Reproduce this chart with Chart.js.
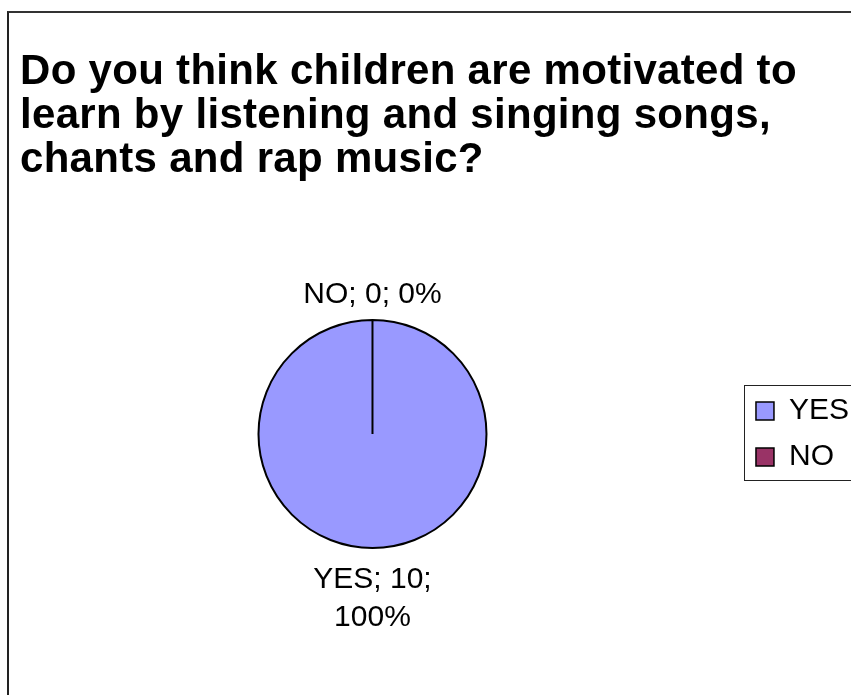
<!DOCTYPE html>
<html>
<head>
<meta charset="utf-8">
<script src="https://cdn.jsdelivr.net/npm/chart.js@4"></script>
<style>
  html, body { margin: 0; padding: 0; background: #fff; }
  #page { position: relative; width: 851px; height: 695px; overflow: hidden; }
  #frame {
    position: absolute; left: 7px; top: 11px; width: 2000px; height: 2000px;
    border-left: 2px solid #222; border-top: 2px solid #333;
  }
  #title {
    position: absolute; left: 20px; top: 48px; margin: 0;
    font: bold 42px "Liberation Sans", Arial, sans-serif; line-height: 44px;
    letter-spacing: 0.3px; color: #000; white-space: nowrap;
  }
  #chart { position: absolute; left: 0; top: 0; }
</style>
</head>
<body>
<div id="page">
  <div id="frame"></div>
  <canvas id="chart" width="900" height="695"></canvas>
  <h1 id="title">Do you think children are motivated to<br>learn by listening and singing songs,<br>chants and rap music?</h1>
</div>
<script>
const answers = ['YES', 'NO'];
const counts = [10, 0];
const sliceColors = ['#9999FF', '#993366'];

const fontFamily = '"Liberation Sans", Arial, sans-serif';

// labels like "NO; 0; 0%" placed just outside each slice
const sliceLabels = {
  id: 'sliceLabels',
  afterDatasetsDraw(chart) {
    const ctx = chart.ctx;
    const meta = chart.getDatasetMeta(0);
    const data = chart.data.datasets[0].data;
    const total = data.reduce((a, b) => a + b, 0);
    ctx.save();
    ctx.font = '30px ' + fontFamily;
    ctx.fillStyle = '#000';
    ctx.textAlign = 'center';
    ctx.textBaseline = 'alphabetic';
    meta.data.forEach((arc, i) => {
      const p = arc.getProps(['x', 'y', 'startAngle', 'endAngle', 'outerRadius'], true);
      const mid = (p.startAngle + p.endAngle) / 2;
      const pct = Math.round(data[i] / total * 100);
      const text = chart.data.labels[i] + '; ' + data[i] + '; ' + pct + '%';
      // simple word wrap
      const lines = [];
      let line = '';
      text.split(' ').forEach(w => {
        const test = line ? line + ' ' + w : w;
        if (line && ctx.measureText(test).width > 150) {
          lines.push(line);
          line = w;
        } else {
          line = test;
        }
      });
      lines.push(line);
      const lh = 38;
      const sin = Math.sin(mid), cos = Math.cos(mid);
      const x = p.x + cos * (p.outerRadius + 12);
      if (sin >= 0) {
        const y0 = p.y + sin * (p.outerRadius + 13) + 27;
        lines.forEach((l, k) => ctx.fillText(l, x, y0 + k * lh));
      } else {
        const yEnd = p.y + sin * (p.outerRadius + 10) - 7;
        lines.forEach((l, k) => ctx.fillText(l, x, yEnd - (lines.length - 1 - k) * lh));
      }
    });
    ctx.restore();
  }
};

// thin frame around the legend
const legendFrame = {
  id: 'legendFrame',
  afterDraw(chart) {
    const lg = chart.legend;
    const hb = lg.legendHitBoxes;
    if (!hb || !hb.length) return;
    const ctx = chart.ctx;
    const top = hb[0].top - 11;
    const last = hb[hb.length - 1];
    const bottom = last.top + last.height + 8;
    ctx.save();
    ctx.strokeStyle = '#222';
    ctx.lineWidth = 1;
    ctx.strokeRect(Math.round(lg.left + 4) + 0.5, Math.round(top) + 0.5, chart.width, Math.round(bottom - top));
    ctx.restore();
  }
};

new Chart(document.getElementById('chart'), {
  type: 'pie',
  data: {
    labels: answers,
    datasets: [{
      data: counts,
      backgroundColor: sliceColors,
      borderColor: '#000',
      borderWidth: 2
    }]
  },
  options: {
    responsive: false,
    animation: false,
    layout: {
      padding: { left: 5, top: 319, right: 41, bottom: 146 }
    },
    plugins: {
      tooltip: { enabled: false },
      title: { display: false },
      legend: {
        position: 'right',
        labels: {
          color: '#000',
          font: { family: fontFamily, size: 30 },
          boxWidth: 18,
          boxHeight: 18,
          padding: 16,
          generateLabels(chart) {
            const ds = chart.data.datasets[0];
            return chart.data.labels.map((l, i) => ({
              text: l,
              fillStyle: ds.backgroundColor[i],
              strokeStyle: '#000',
              lineWidth: 1.5,
              index: i
            }));
          }
        }
      }
    }
  },
  plugins: [sliceLabels, legendFrame]
});
</script>
</body>
</html>
